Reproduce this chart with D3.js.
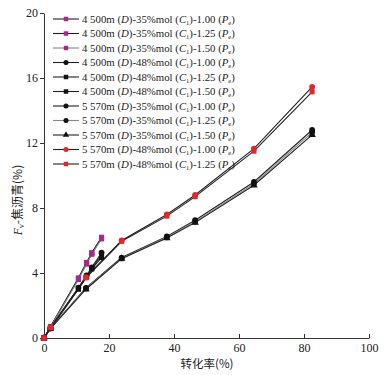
<!DOCTYPE html>
<html>
<head>
<meta charset="utf-8">
<script src="https://cdn.jsdelivr.net/npm/d3@7"></script>
<style>
  body { margin: 0; background: #fff; }
  svg { display: block; }
</style>
</head>
<body>
<div id="chart"></div>
<script>
// conversion rate (%) sampled for each depth group
var x4500 = [0, 2, 10.6, 13.1, 14.7, 17.7];
var x5570 = [0, 2, 12.9, 23.9, 37.8, 46.5, 64.6, 82.5];

// F_v coke yield (%) per series
var d4500_35_100 = [0, 0.7, 3.7, 4.65, 5.25, 6.2];
var d4500_35_125 = [0, 0.68, 3.65, 4.6, 5.2, 6.15];
var d4500_35_150 = [0, 0.66, 3.6, 4.55, 5.15, 6.1];
var d4500_48_100 = [0, 0.6, 3.1, 3.85, 4.35, 5.25];
var d4500_48_125 = [0, 0.6, 3.05, 3.8, 4.3, 5.1];
var d4500_48_150 = [0, 0.58, 3.0, 3.75, 4.25, 4.95];
var d5570_35_100 = [0, 0.6, 3.08, 4.95, 6.25, 7.25, 9.6, 12.8];
var d5570_35_125 = [0, 0.6, 3.05, 4.9, 6.2, 7.15, 9.5, 12.65];
var d5570_35_150 = [0, 0.58, 3.0, 4.88, 6.15, 7.1, 9.4, 12.5];
var d5570_48_100 = [0, 0.65, 3.75, 6.0, 7.6, 8.8, 11.65, 15.45];
var d5570_48_125 = [0, 0.63, 3.7, 5.95, 7.5, 8.7, 11.5, 15.15];

// legend labels parts
var depths = ["4 500m", "4 500m", "4 500m", "4 500m", "4 500m", "4 500m",
              "5 570m", "5 570m", "5 570m", "5 570m", "5 570m"];
var mols = ["35%", "35%", "35%", "48%", "48%", "48%", "35%", "35%", "35%", "48%", "48%"];
var pes = ["1.00", "1.25", "1.50", "1.00", "1.25", "1.50", "1.00", "1.25", "1.50", "1.00", "1.25"];

var xTicks = [0, 20, 40, 60, 80, 100];
var yTicks = [0, 4, 8, 12, 16, 20];

var seriesY = [d4500_35_100, d4500_35_125, d4500_35_150, d4500_48_100, d4500_48_125, d4500_48_150,
               d5570_35_100, d5570_35_125, d5570_35_150, d5570_48_100, d5570_48_125];

var magenta = "#a8278e", red = "#e3262c";
var markColor = [magenta, magenta, magenta, "#111", "#111", "#111", "#111", "#111", "#111", red, red];
var lineColor = ["#222", "#222", "#888", "#222", "#222", "#222", "#222", "#888", "#222", "#222", "#222"];
var shapes = [d3.symbolSquare, d3.symbolSquare, d3.symbolSquare, d3.symbolCircle, d3.symbolSquare, d3.symbolSquare,
              d3.symbolCircle, d3.symbolCircle, d3.symbolTriangle, d3.symbolCircle, d3.symbolSquare];

var series = seriesY.map(function (ys, i) {
  var xs = depths[i] == "4 500m" ? x4500 : x5570;
  return ys.map(function (v, j) { return [xs[j], v]; });
});

var width = 386, height = 375;
var svg = d3.select("#chart").append("svg")
  .attr("width", width).attr("height", height);

var x = d3.scaleLinear().domain([0, 100]).range([44, 369]);
var y = d3.scaleLinear().domain([0, 20]).range([338, 13]);

// axes
var xAxis = svg.append("g")
  .attr("transform", "translate(0," + y(0) + ")")
  .call(d3.axisBottom(x).tickValues(xTicks).tickSizeInner(-4).tickSizeOuter(0).tickPadding(5));
var yAxis = svg.append("g")
  .attr("transform", "translate(" + x(0) + ",0)")
  .call(d3.axisLeft(y).tickValues(yTicks).tickSizeInner(4).tickSizeOuter(0).tickPadding(2));

[xAxis, yAxis].forEach(function (g) {
  g.selectAll("path").attr("stroke", "#333");
  g.selectAll("line").attr("stroke", "#333");
  g.selectAll("text")
    .attr("fill", "#222")
    .style("font-family", "'Liberation Serif', 'Times New Roman', serif")
    .style("font-size", "12px");
});

// axis titles
svg.append("text")
  .attr("x", 207).attr("y", 368)
  .attr("text-anchor", "middle")
  .style("font-family", "'Noto Sans CJK SC', sans-serif")
  .style("font-size", "11.5px")
  .attr("fill", "#222")
  .text("转化率(%)");

var yl = svg.append("text")
  .attr("transform", "translate(22,200) rotate(-90)")
  .attr("text-anchor", "middle")
  .style("font-family", "'Noto Sans CJK SC', sans-serif")
  .style("font-size", "12px")
  .attr("fill", "#222");
yl.append("tspan").style("font-family", "'Liberation Serif', serif").style("font-style", "italic").text("F");
yl.append("tspan").style("font-family", "'Liberation Serif', serif").style("font-size", "7.5px").attr("dy", 2).text("v");
yl.append("tspan").attr("dy", -2).text("-焦沥青(%)");

// lines and markers
var line = d3.line().x(function (d) { return x(d[0]); }).y(function (d) { return y(d[1]); });

series.forEach(function (s, i) {
  svg.append("path")
    .datum(s)
    .attr("d", line)
    .attr("fill", "none")
    .attr("stroke", lineColor[i])
    .attr("stroke-width", 1.1);
});
series.forEach(function (s, i) {
  svg.selectAll(".m" + i)
    .data(s)
    .join("path")
    .attr("class", "m" + i)
    .attr("transform", function (d) { return "translate(" + x(d[0]) + "," + y(d[1]) + ")"; })
    .attr("d", d3.symbol().type(shapes[i]).size(shapes[i] == d3.symbolTriangle ? 24 : 26))
    .attr("fill", markColor[i]);
});

// legend
var legend = svg.append("g").style("font-family", "'Liberation Serif', 'Times New Roman', serif");
depths.forEach(function (dep, i) {
  var ly = 19 + i * 14.5;
  legend.append("line")
    .attr("x1", 53).attr("x2", 79).attr("y1", ly).attr("y2", ly)
    .attr("stroke", lineColor[i]).attr("stroke-width", 1.1);
  legend.append("path")
    .attr("transform", "translate(66," + ly + ")")
    .attr("d", d3.symbol().type(shapes[i]).size(shapes[i] == d3.symbolTriangle ? 18 : 20))
    .attr("fill", markColor[i]);
  var t = legend.append("text")
    .attr("x", 82).attr("y", ly + 3.5)
    .attr("fill", "#222")
    .style("font-size", "10.8px");
  t.append("tspan").text(dep + " (");
  t.append("tspan").style("font-style", "italic").text("D");
  t.append("tspan").text(")-" + mols[i] + "mol (");
  t.append("tspan").style("font-style", "italic").text("C");
  t.append("tspan").style("font-size", "6.5px").attr("dy", 2).text("1");
  t.append("tspan").attr("dy", -2).text(")-" + pes[i] + " (");
  t.append("tspan").style("font-style", "italic").text("P");
  t.append("tspan").style("font-size", "6.5px").attr("dy", 2).text("e");
  t.append("tspan").attr("dy", -2).text(")");
});
</script>
</body>
</html>
